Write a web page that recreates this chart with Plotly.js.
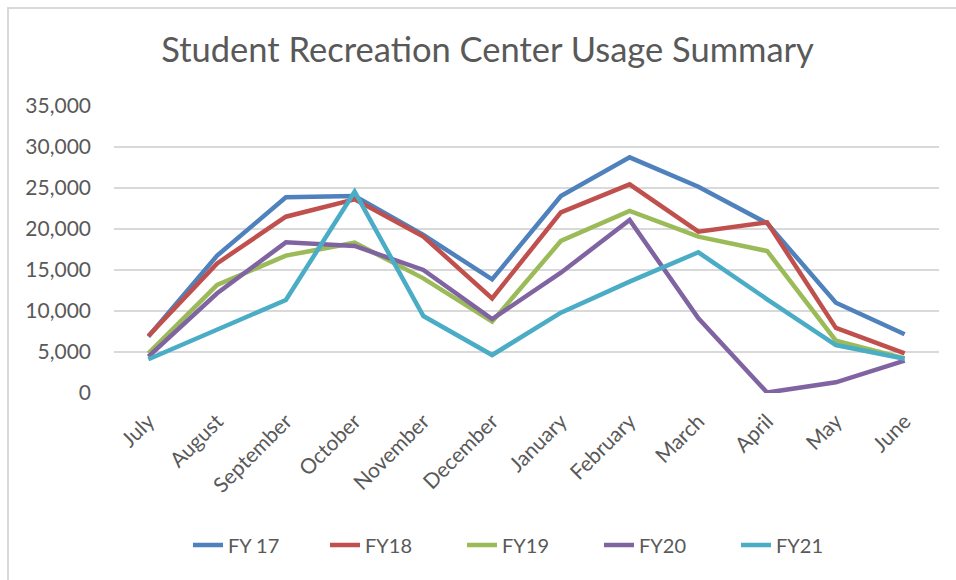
<!DOCTYPE html>
<html>
<head>
<meta charset="utf-8">
<script src="https://cdn.plot.ly/plotly-3.0.1.min.js"></script>
<style>
  html, body { margin: 0; padding: 0; background: #fff; }
  #wrap { position: relative; width: 956px; height: 580px; }
  #frame { position: absolute; left: 7px; top: 7px; width: 960px; height: 590px;
           border-left: 2px solid #d9d9d9; border-top: 2px solid #d9d9d9; pointer-events: none; }
  #chart { position: absolute; left: 0; top: 0; width: 956px; height: 580px; }
</style>
</head>
<body>
<div id="wrap">
  <div id="chart"></div>
  <div id="frame"></div>
</div>
<script>
const months = ["July","August","September","October","November","December","January","February","March","April","May","June"];
const fy17 = [6900, 16750, 23870, 24020, 19270, 13860, 24020, 28740, 25160, 20700, 11010, 7160];
const fy18 = [6950, 15810, 21500, 23620, 19070, 11540, 22030, 25450, 19670, 20810, 7930, 4840];
const fy19 = [4840, 13170, 16750, 18330, 13980, 8700, 18540, 22200, 19070, 17320, 6380, 4230];
const fy20 = [4430, 12160, 18370, 17930, 15000, 9020, 14670, 21100, 9100, 50, 1300, 3940];
const fy21 = [4110, 7770, 11340, 24550, 9390, 4630, 9800, 13580, 17160, 11430, 5850, 4180];
const seriesNames = ["FY 17", "FY18", "FY19", "FY20", "FY21"];
const seriesColors = ["#4F81BD", "#C0504D", "#9BBB59", "#8064A2", "#4BACC6"];
const seriesValues = [fy17, fy18, fy19, fy20, fy21];
const yTickVals = [0, 5000, 10000, 15000, 20000, 25000, 30000, 35000];
const yTickText = ["0", "5,000", "10,000", "15,000", "20,000", "25,000", "30,000", "35,000"];

const traces = seriesValues.map((v, i) => ({
  type: "scatter",
  mode: "lines",
  x: months,
  y: v,
  name: seriesNames[i],
  line: { color: seriesColors[i], width: 4.5 },
  hoverinfo: "x+y+name"
}));

const font = "Lato, 'Open Sans', sans-serif";
const layout = {
  width: 956,
  height: 580,
  paper_bgcolor: "#ffffff",
  plot_bgcolor: "#ffffff",
  margin: { l: 114, r: 17, t: 106, b: 187, autoexpand: false },
  title: {
    text: "Student Recreation Center Usage Summary",
    font: { family: font, size: 34.5, color: "#595959" },
    x: 0.51,
    xanchor: "center",
    y: 1 - 50 / 580,
    yanchor: "middle",
    yref: "container"
  },
  xaxis: {
    type: "category",
    tickangle: -45,
    showgrid: false,
    showline: false,
    zeroline: false,
    ticks: "",
    automargin: false,
    ticklabelstandoff: 11,
    tickfont: { family: font, size: 21, color: "#595959" },
    range: [-0.5, 11.5]
  },
  yaxis: {
    range: [0, 35000],
    tickvals: yTickVals,
    ticktext: yTickText,
    showgrid: true,
    gridcolor: "#d9d9d9",
    gridwidth: 1.5,
    zeroline: false,
    showline: false,
    ticks: "",
    automargin: false,
    ticklabelstandoff: 22,
    tickfont: { family: font, size: 21, color: "#595959" }
  },
  showlegend: true,
  legend: {
    orientation: "h",
    x: (188 - 114) / 825,
    xanchor: "left",
    y: (393 - 545) / 287,
    yanchor: "middle",
    font: { family: font, size: 20, color: "#595959" },
    entrywidth: 92,
    bgcolor: "rgba(0,0,0,0)"
  },
  hovermode: "closest"
};

Plotly.newPlot("chart", traces, layout, { displayModeBar: false, responsive: false });
</script>
</body>
</html>
